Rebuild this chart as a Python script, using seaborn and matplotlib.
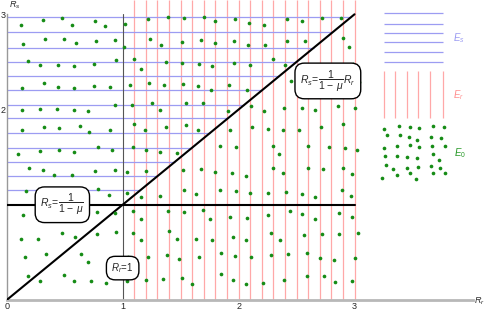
import matplotlib
matplotlib.use("Agg")
import matplotlib.pyplot as plt
import seaborn as sns

# ---------------------------------------------------------------------------
# Data
# ---------------------------------------------------------------------------

# horizontal mesh lines of region E_s (each runs from R_r=0 to the diagonal)
es_levels = [2.97, 2.81, 2.65, 2.50, 2.35, 2.20, 2.05, 1.91, 1.75, 1.60, 1.45, 1.30, 1.15]
# vertical mesh lines of region E_r
er_levels = [1.1, 1.2, 1.3, 1.4, 1.5, 1.6, 1.7, 1.8, 1.9, 2.0,
             2.1, 2.2, 2.3, 2.4, 2.5, 2.6, 2.7, 2.8, 2.9, 3.0]

# E_0 sample points
e0_x = [0.12, 0.31, 0.48, 0.56, 0.76, 0.85, 1.02, 1.22, 1.39,
        0.14, 0.33, 0.49, 0.60, 0.77, 0.93, 1.01, 1.24, 1.33,
        0.18, 0.29, 0.44, 0.58, 0.75, 0.94, 1.10, 1.16, 1.37,
        0.13, 0.32, 0.44, 0.58, 0.75, 0.89, 1.06, 1.23, 1.36,
        0.13, 0.29, 0.43, 0.58, 0.70, 0.93, 1.08, 1.25, 1.32,
        0.13, 0.32, 0.45, 0.63, 0.71, 0.89, 1.10, 1.19, 1.37,
        0.10, 0.29, 0.45, 0.58, 0.79, 0.91, 1.09, 1.20, 1.32, 1.47,
        1.53, 1.70, 1.80, 1.97, 2.09, 2.22, 2.42, 2.55, 2.72, 2.88,
        1.51, 1.68, 1.80, 1.96, 2.08, 2.23, 2.42, 2.57, 2.90, 2.95,
        1.51, 1.66, 1.77, 1.96, 2.10, 2.30, 2.40, 2.99,
        1.52, 1.65, 1.76, 1.92, 2.07, 2.45, 3.04,
        1.55, 1.69, 1.91, 2.11, 2.22, 2.39, 2.55, 2.66, 2.86, 3.00,
        1.55, 1.65, 1.93, 2.12, 2.25, 2.38, 2.52, 2.71, 2.90,
        1.84, 1.98, 2.30, 2.35, 2.60, 2.78, 2.92, 3.02,
        0.19, 0.31, 0.41, 0.56, 0.76, 0.93, 1.04, 1.20,
        0.17, 0.26, 0.79, 0.88, 1.04, 1.16, 1.32,
        0.14, 0.28, 0.78, 0.93, 1.09, 1.16, 1.39,
        0.12, 0.27, 0.48, 0.59, 0.78, 0.94, 1.09, 1.16, 1.40, 1.47,
        0.16, 0.34, 0.64, 0.70, 1.05, 1.22, 1.38, 1.49,
        0.18, 0.29, 0.49, 0.58, 0.73, 0.86, 1.04, 1.20, 1.35,
        1.52, 1.68, 1.80, 1.94, 2.06, 2.30, 2.38, 2.60, 2.73, 2.90, 2.98,
        1.53, 1.63, 1.84, 1.98, 2.10, 2.25, 2.41, 2.55, 2.66, 2.89, 2.97,
        1.53, 1.69, 1.75, 1.93, 2.07, 2.25, 2.44, 2.55, 2.66, 2.87, 2.98,
        1.63, 1.77, 1.95, 2.06, 2.28, 2.36, 2.56, 2.72, 2.87, 3.03,
        1.66, 1.85, 1.97, 2.11, 2.28, 2.43, 2.59, 2.70, 2.82, 3.00,
        1.51, 1.60, 1.85, 1.95, 2.06, 2.21, 2.39, 2.59, 2.74, 2.83, 2.98]
e0_y = [2.89, 2.94, 2.96, 2.89, 2.93, 2.88, 2.90, 2.95, 2.97,
        2.69, 2.74, 2.74, 2.70, 2.72, 2.73, 2.66, 2.74, 2.68,
        2.51, 2.47, 2.47, 2.46, 2.48, 2.52, 2.53, 2.43, 2.50,
        2.23, 2.28, 2.24, 2.23, 2.25, 2.24, 2.26, 2.28, 2.26,
        2.00, 2.01, 2.01, 2.00, 1.98, 2.05, 2.05, 2.07, 2.00,
        1.78, 1.82, 1.81, 1.83, 1.76, 1.79, 1.85, 1.79, 1.82,
        1.53, 1.56, 1.57, 1.55, 1.61, 1.58, 1.61, 1.57, 1.55, 1.54,
        2.96, 2.97, 2.93, 2.95, 2.91, 2.89, 2.95, 2.93, 2.96, 2.96,
        2.71, 2.73, 2.70, 2.72, 2.68, 2.68, 2.72, 2.72, 2.75, 2.66,
        2.49, 2.48, 2.46, 2.49, 2.47, 2.53, 2.47, 2.48,
        2.27, 2.25, 2.20, 2.26, 2.21, 2.30, 2.29,
        2.07, 2.07, 1.98, 2.04, 1.98, 2.02, 2.02, 1.99, 2.04, 2.02,
        1.84, 1.79, 1.78, 1.82, 1.80, 1.78, 1.78, 1.82, 1.85,
        1.62, 1.61, 1.62, 1.53, 1.62, 1.61, 1.60, 1.57,
        1.39, 1.36, 1.31, 1.31, 1.35, 1.37, 1.34, 1.35,
        1.14, 1.08, 1.17, 1.10, 1.12, 1.08, 1.09,
        0.89, 0.87, 0.92, 0.91, 0.93, 0.85, 0.93,
        0.64, 0.64, 0.70, 0.66, 0.69, 0.71, 0.70, 0.63, 0.72, 0.64,
        0.45, 0.48, 0.48, 0.40, 0.45, 0.45, 0.47, 0.43,
        0.25, 0.20, 0.26, 0.20, 0.20, 0.18, 0.20, 0.21, 0.22,
        1.37, 1.38, 1.34, 1.33, 1.30, 1.39, 1.33, 1.39, 1.38, 1.39, 1.32,
        1.15, 1.11, 1.16, 1.14, 1.12, 1.12, 1.13, 1.11, 1.08, 1.16, 1.09,
        0.92, 0.94, 0.85, 0.87, 0.86, 0.89, 0.93, 0.90, 0.85, 0.91, 0.87,
        0.64, 0.63, 0.66, 0.63, 0.70, 0.63, 0.68, 0.69, 0.69, 0.70,
        0.45, 0.49, 0.46, 0.45, 0.47, 0.48, 0.49, 0.44, 0.42, 0.44,
        0.23, 0.17, 0.27, 0.21, 0.17, 0.18, 0.21, 0.25, 0.25, 0.19, 0.20]

# key (drawn inside the axes on the right)
key_es_y = [3.01, 2.90, 2.80, 2.71, 2.60, 2.50]
key_er_x = [3.25, 3.35, 3.45, 3.55, 3.65, 3.76]
key_e0_x = [3.25, 3.38, 3.48, 3.56, 3.68, 3.77,
            3.28, 3.39, 3.47, 3.54, 3.66, 3.75,
            3.25, 3.37, 3.48, 3.56, 3.67, 3.78,
            3.26, 3.37, 3.45, 3.54, 3.68, 3.73,
            3.27, 3.33, 3.45, 3.55, 3.66, 3.74,
            3.24, 3.37, 3.48, 3.53, 3.68, 3.78]
key_e0_y = [1.80, 1.83, 1.82, 1.81, 1.83, 1.82,
            1.73, 1.73, 1.71, 1.68, 1.71, 1.70,
            1.60, 1.62, 1.63, 1.61, 1.62, 1.62,
            1.51, 1.51, 1.50, 1.49, 1.53, 1.47,
            1.42, 1.38, 1.39, 1.40, 1.41, 1.39,
            1.28, 1.31, 1.33, 1.27, 1.33, 1.33]

x_ticks = [0, 1, 2, 3]
y_ticks = [2, 3]

BLUE = "#9c9cf2"
RED = "#ffa8a8"
GREEN = "#168c16"

# ---------------------------------------------------------------------------
# Plot
# ---------------------------------------------------------------------------

sns.set_theme(style="white")
plt.rcParams["font.family"] = ["Liberation Sans", "DejaVu Sans"]
plt.rcParams["mathtext.fontset"] = "custom"
plt.rcParams["mathtext.rm"] = "Liberation Sans"
plt.rcParams["mathtext.it"] = "Liberation Sans:italic"

fig = plt.figure(figsize=(4.86, 3.12), dpi=100)
ax = fig.add_axes([0.0138, 0.0385, 0.959, 0.9615])
ax.set_xlim(0, 4.02)
ax.set_ylim(0, 3.15)

# mesh lines
ax.vlines(er_levels, 0, 3.15, color=RED, lw=0.9, zorder=1)
ax.hlines(es_levels, 0, es_levels, color=BLUE, lw=0.9, zorder=1)

# boundaries
ax.plot([0, 3], [0, 3], color="black", lw=1.5, zorder=3)
ax.plot([0, 3], [1, 1], color="black", lw=1.5, zorder=3)
ax.plot([1, 1], [0, 3], color="#555555", lw=0.8, zorder=2)

sns.scatterplot(x=e0_x, y=e0_y, ax=ax, color=GREEN, s=7, linewidth=0, zorder=4)

# key
ax.hlines(key_es_y, key_er_x[0], key_er_x[-1], color=BLUE, lw=0.9)
ax.vlines(key_er_x, 1.91, 2.40, color=RED, lw=0.9)
sns.scatterplot(x=key_e0_x, y=key_e0_y, ax=ax, color=GREEN, s=7, linewidth=0, zorder=4)
ax.text(3.90, 2.75, r"$E_s$", color=BLUE, fontsize=7, ha="center", va="center")
ax.text(3.90, 2.15, r"$E_r$", color="#ff9090", fontsize=7, ha="center", va="center")
ax.text(3.91, 1.54, r"$E_0$", color="#2a9a2a", fontsize=7, ha="center", va="center")

# labels in rounded boxes
box = dict(boxstyle="round,pad=0.5,rounding_size=0.9", fc="white", ec="black", lw=1.0)
ax.text(0.48, 1.0, r"$R_s\!=\!\dfrac{1}{1\,-\,\mu}$", fontsize=7.5,
        ha="center", va="center", bbox=box, zorder=6)
ax.text(2.77, 2.30, r"$R_s\!=\!\dfrac{1}{1\,-\,\mu}R_r$", fontsize=7.5,
        ha="center", va="center", bbox=box, zorder=6)
ax.text(1.0, 0.335, r"$R_r\!=\!1$", fontsize=7,
        ha="center", va="center", bbox=box, zorder=6)

# axes
for side in ["top", "right"]:
    ax.spines[side].set_visible(False)
ax.spines["bottom"].set_color("#b8b8b8")
ax.spines["bottom"].set_linewidth(2.0)
ax.spines["left"].set_color("#999999")
ax.spines["left"].set_linewidth(1.0)
ax.spines["left"].set_bounds(0, 3)
ax.set_xticks(x_ticks)
ax.set_yticks(y_ticks)
ax.tick_params(axis="both", direction="in", length=3, width=0.8, color="#999999",
               labelsize=6.5, pad=1.5)
ax.tick_params(axis="y", pad=1)

ax.text(4.075, -0.01, r"$R_r$", fontsize=6.5, ha="center", va="center", clip_on=False)
ax.text(0.07, 3.10, r"$R_s$", fontsize=6.5, ha="center", va="center", clip_on=False)

fig.savefig("out.png", dpi=100)
plt.close(fig)
